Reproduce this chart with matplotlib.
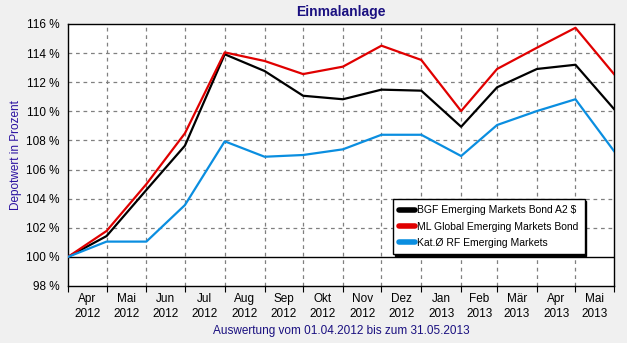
import matplotlib
matplotlib.use("Agg")
import matplotlib.pyplot as plt
import matplotlib.dates as mdates
import numpy as np
import datetime as dt

plt.rcParams['font.family'] = ['Liberation Sans', 'DejaVu Sans']

dates = ["2012-04-01", "2012-05-01", "2012-06-01", "2012-07-01", "2012-08-01", "2012-09-01",
         "2012-10-01", "2012-11-01", "2012-12-01", "2013-01-01", "2013-02-01", "2013-03-01",
         "2013-04-01", "2013-05-01", "2013-05-31"]
bgf = [100.0, 101.43, 104.6, 107.64, 113.92, 112.77, 111.07, 110.83, 111.49, 111.42,
       108.94, 111.65, 112.91, 113.2, 110.16]
ml = [100.0, 101.78, 105.0, 108.49, 114.05, 113.46, 112.56, 113.07, 114.51, 113.53,
      110.02, 112.91, 114.37, 115.74, 112.56]
kat = [100.0, 101.05, 101.05, 103.56, 107.94, 106.88, 107.0, 107.39, 108.39, 108.39,
       106.93, 109.06, 110.02, 110.83, 107.27]
series_names = ["BGF Emerging Markets Bond A2 $", "ML Global Emerging Markets Bond",
                "Kat.Ø RF Emerging Markets"]
month_labels = ["Apr\n2012", "Mai\n2012", "Jun\n2012", "Jul\n2012", "Aug\n2012", "Sep\n2012",
                "Okt\n2012", "Nov\n2012", "Dez\n2012", "Jan\n2013", "Feb\n2013", "Mär\n2013",
                "Apr\n2013", "Mai\n2013"]
yticks = [98, 100, 102, 104, 106, 108, 110, 112, 114, 116]

x = [dt.datetime.strptime(d, "%Y-%m-%d") for d in dates]
W, H = 627, 343
fig = plt.figure(figsize=(W/100, H/100), dpi=100, facecolor="#f0f0f0")
ax = fig.add_axes([68/W, 1-286/H, (614-68)/W, (286-24)/H])
ax.set_facecolor("white")

colors = ["#000000", "#e00000", "#0a8ee0"]
for vals, c, n in zip([bgf, ml, kat], colors, series_names):
    ax.plot(x, vals, color=c, lw=1.6, label=n, zorder=3)

x0 = dt.datetime(2012, 4, 1)
x1 = dt.datetime(2013, 5, 31)
ax.set_xlim(x0, x1)
ax.set_ylim(98, 116)

# month boundaries
bounds = [dt.datetime(2012 + (3 + i) // 12, (3 + i) % 12 + 1, 1) for i in range(14)]
bounds.append(x1)
ax.set_xticks(bounds)
ax.set_xticklabels([])
ax.tick_params(axis='x', which='major', length=4, direction='out', color='black')
mids = [bounds[i] + (bounds[i+1] - bounds[i]) / 2 for i in range(14)]
ax.set_xticks(mids, minor=True)
ax.set_xticklabels(month_labels, minor=True, fontsize=8.5, linespacing=1.3)
ax.tick_params(axis='x', which='minor', length=0, pad=5)

ax.set_yticks(yticks)
ax.set_yticklabels([f"{v} %" for v in yticks], fontsize=8.5)
ax.tick_params(axis='y', length=0, pad=6)

for b in bounds[1:-1]:
    ax.axvline(b, color="#808080", lw=0.9, ls=(0, (3, 3)), zorder=1)
for v in yticks[1:-1]:
    if v == 100:
        ax.axhline(v, color="black", lw=1.0, zorder=2)
    else:
        ax.axhline(v, color="#808080", lw=0.9, ls=(0, (3, 3)), zorder=1)

for s in ax.spines.values():
    s.set_color("black")
    s.set_linewidth(1.0)

fig.text(0.5 * (68 + 614) / W, 1 - 12/H, "Einmalanlage", ha='center', va='center',
         fontsize=10, fontweight='bold', color="#1a1080")
fig.text(16/W, 1 - 155/H, "Depotwert in Prozent", rotation=90, ha='center', va='center',
         fontsize=8.5, color="#2a10a0")
fig.text(0.5 * (68 + 614) / W, 1 - 331/H, "Auswertung vom 01.04.2012 bis zum 31.05.2013",
         ha='center', va='center', fontsize=8.5, color="#1a1080")

leg = ax.legend(loc='upper left', bbox_to_anchor=((393-68)/(614-68), 1-(199-24)/(286-24)),
                fontsize=7.5, frameon=True, fancybox=False,
                shadow={'color': 'black', 'alpha': 1.0, 'ox': 1.2, 'oy': -1.2},
                handlelength=1.5, handletextpad=0.2, borderpad=0.6, labelspacing=0.6,
                borderaxespad=0)
leg.get_frame().set_edgecolor("black")
leg.get_frame().set_linewidth(1.0)
for line in leg.get_lines():
    line.set_linewidth(4)
    line.set_solid_capstyle('round')

fig.savefig("out.png", dpi=100, facecolor=fig.get_facecolor())
